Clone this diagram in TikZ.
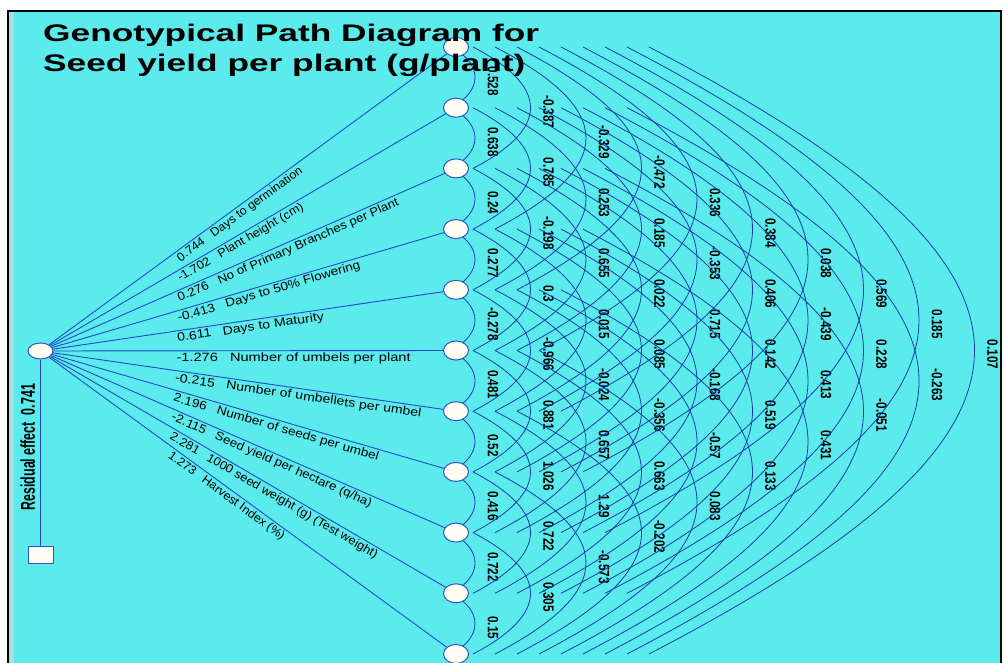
\documentclass[tikz,border=0pt]{standalone}
\usepackage{fontspec}
\setmainfont{Liberation Sans}
\newfontfamily\titlefont[FakeStretch=1.47]{Liberation Sans}
\newfontfamily\pathfont[FakeStretch=1.22]{Liberation Sans}
\newfontfamily\corrfont[FakeStretch=0.78]{Liberation Sans}
\newfontfamily\resfont[FakeStretch=0.62]{Liberation Sans}
\usetikzlibrary{positioning, shapes.geometric, backgrounds}

\definecolor{panelcyan}{RGB}{92,235,236}
\definecolor{bevelgrey}{RGB}{170,222,224}
\definecolor{pathblue}{RGB}{30,75,205}
\definecolor{arcblue}{RGB}{22,60,170}
\definecolor{nodeblue}{RGB}{45,85,190}
\definecolor{nodefill}{RGB}{255,252,242}

\begin{document}
\begin{tikzpicture}[
    x=1pt, y=-1pt,
    trait/.style={draw=nodeblue, fill=nodefill, ellipse, minimum width=25pt, minimum height=19pt, inner sep=0pt, line width=1pt},
    yieldnode/.style={draw=nodeblue, fill=nodefill, ellipse, minimum width=25pt, minimum height=16pt, inner sep=0pt, line width=1pt},
    resbox/.style={draw=nodeblue, fill=nodefill, rectangle, minimum width=25pt, minimum height=17pt, inner sep=0pt, line width=1pt},
    direct/.style={draw=pathblue, line width=0.9pt},
    corr/.style={draw=arcblue, line width=0.8pt},
    plab/.style={font=\pathfont\fontsize{12}{14}\selectfont, sloped, anchor=north west, inner sep=1.8pt, pos=0.31},
    rlab/.style={font=\corrfont\bfseries\fontsize{15}{16}\selectfont, rotate=-90, inner sep=0pt},
    reslab/.style={font=\resfont\bfseries\fontsize{20}{22}\selectfont, rotate=90, anchor=south, inner sep=5pt, pos=0.47},
    headline/.style={font=\titlefont\bfseries\fontsize{24}{28}\selectfont, anchor=base west, inner sep=0pt}
]
\useasboundingbox (0,0) rectangle (1004,663);

% Nodes
\node[yieldnode] (yield) at (40.5,351) {};
\node[resbox] (resid) at (40.5,555) {};
\foreach \i in {1,...,11}
  \node[trait] (e\i) at (456, {47+60.7*(\i-1)}) {};

\begin{scope}[on background layer]
% Panel
\fill[white] (0,0) rectangle (1004,663);
\fill[panelcyan] (8,11) rectangle (1001,663);
\fill[bevelgrey] (8,11) rectangle (14,663);
\draw[black, line width=1.2pt] (8,663) -- (8,11) -- (1001,11) -- (1001,663);

% Correlation arcs
\foreach \i/\j/\r in {1/2/0.528, 2/3/0.638, 3/4/0.24, 4/5/0.277, 5/6/-0.278,
    6/7/0.481, 7/8/0.52, 8/9/0.416, 9/10/0.722, 10/11/0.15,
    1/3/-0.387, 2/4/0.785, 3/5/-0.198, 4/6/0.3, 5/7/-0.966, 6/8/0.881,
    7/9/1.026, 8/10/0.722, 9/11/0.305,
    1/4/-0.329, 2/5/0.253, 3/6/0.655, 4/7/0.015, 5/8/-0.024, 6/9/0.657,
    7/10/1.29, 8/11/-0.573,
    1/5/-0.472, 2/6/0.185, 3/7/0.022, 4/8/0.085, 5/9/-0.356, 6/10/0.663, 7/11/-0.202,
    1/6/0.336, 2/7/-0.353, 3/8/0.715, 4/9/-0.168, 5/10/-0.57, 6/11/0.083,
    1/7/0.384, 2/8/0.406, 3/9/0.142, 4/10/0.519, 5/11/0.133,
    1/8/0.038, 2/9/-0.439, 3/10/0.413, 4/11/0.431,
    1/9/0.569, 2/10/0.228, 3/11/-0.051,
    1/10/0.185, 2/11/-0.263,
    1/11/0.107}{
  \pgfmathsetmacro\kk{\j-\i}
  \pgfmathsetmacro\xoff{22*\kk-27}
  \pgfmathsetmacro\cx{(33.5*\kk-9.5)/0.75}
  \pgfmathsetmacro\cy{0.52*\cx}
  \draw[corr] ([xshift=\xoff pt]e\i.center) .. controls +(\cx,\cy) and +(\cx,-\cy) .. ([xshift=\xoff pt]e\j.center);
  \node[rlab] (r\i-\j) at ({437.5+55.5*\kk}, {47+60.7*(\i+\j-2)/2+4}) {\r};
}

% Direct effects
\foreach \i/\sx/\d/\t in {1/0.85/0.744/{Days to germination}, 2/0.875/-1.702/{Plant height (cm)},
    3/0.9/0.276/{No of Primary Branches per Plant}, 4/0.93/-0.413/{Days to 50\% Flowering},
    5/0.965/0.611/{Days to Maturity}, 6/1/-1.276/{Number of umbels per plant},
    7/0.965/-0.215/{Number of umbellets per umbel}, 8/0.93/2.196/{Number of seeds per umbel},
    9/0.9/-2.115/{Seed yield per hectare (q/ha)}, 10/0.875/2.281/{1000 seed weight (g) (Test weight)},
    11/0.85/1.273/{Harvest Index (\%)}}
  \draw[direct] (yield) -- node[plab] (p\i) {\scalebox{\sx}[1]{\d\hspace{12pt}\t}} (e\i);

% Residual
\draw[direct] (yield) -- node[reslab] (reslabel) {Residual effect\hspace{7pt}0.741} (resid);
\end{scope}

% Title
\node[headline] (title1) at (43,41.7) {Genotypical Path Diagram for};
\node[headline] (title2) at (43,71.7) {Seed yield per plant (g/plant)};
\end{tikzpicture}
\end{document}
